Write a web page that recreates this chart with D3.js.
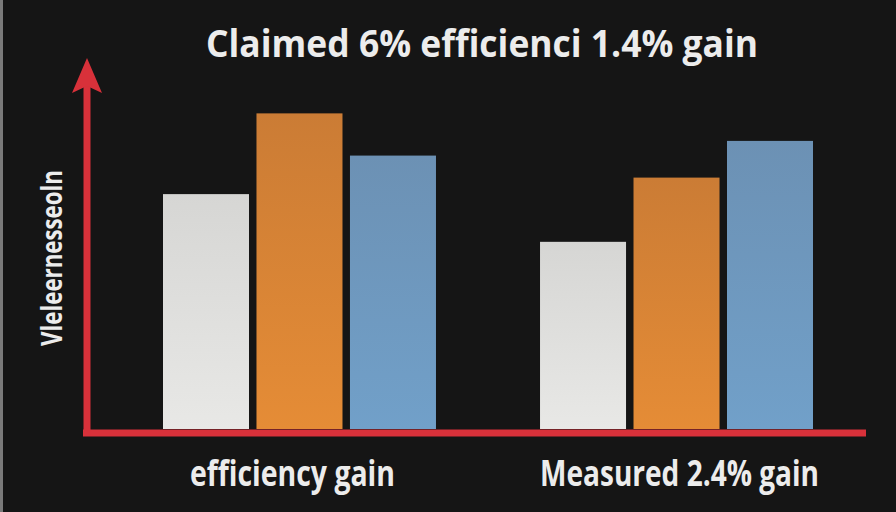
<!DOCTYPE html>
<html>
<head>
<meta charset="utf-8">
<script src="https://cdn.jsdelivr.net/npm/d3@7"></script>
<style>
  html, body { margin: 0; padding: 0; background: #151515; }
  svg { display: block; }
</style>
</head>
<body>
<div id="chart"></div>
<script>
var width = 896;
var height = 512;

// data
var groups = ['efficiency gain', 'Measured 2.4% gain'];
var series = ['baseline', 'claimed', 'measured'];
var baselineVals = [64, 51];
var claimedVals = [86, 68.5];
var measuredVals = [74.5, 78.5];

var title = 'Claimed 6% efficienci 1.4% gain';
var yLabel = 'Vleleernesseoln';

var rows = groups.map((g, i) => {
    return {group: g, values: [baselineVals[i], claimedVals[i], measuredVals[i]]};
});

var base = 429;

var svg = d3.select('#chart')
    .append('svg')
    .attr('width', width)
    .attr('height', height);

svg.append('rect')
    .attr('width', width).attr('height', height)
    .attr('fill', '#151515');
svg.append('rect')
    .attr('width', 3).attr('height', height)
    .attr('fill', '#7a7a7a');

// gradients for the bars
var colors = {
    baseline: ['#d6d6d4', '#e8e8e6'],
    claimed: ['#cb7c35', '#e58c36'],
    measured: ['#6c91b4', '#71a0c9']
};
var defs = svg.append('defs');
series.forEach(s => {
    var g = defs.append('linearGradient')
        .attr('id', 'g-' + s)
        .attr('x1', 0).attr('y1', 0).attr('x2', 0).attr('y2', 1);
    g.append('stop').attr('offset', '0%').attr('stop-color', colors[s][0]);
    g.append('stop').attr('offset', '100%').attr('stop-color', colors[s][1]);
});

var x0 = d3.scaleBand()
    .domain(groups)
    .range([163, 813])
    .paddingInner(0.276)
    .paddingOuter(0);

var x1 = d3.scaleBand()
    .domain(series)
    .range([0, x0.bandwidth()])
    .paddingInner(0.08);

var yScale = d3.scaleLinear()
    .domain([0, 100])
    .range([base, 62]);

// bars
svg.selectAll('.grp')
    .data(rows)
    .enter()
    .append('g')
    .attr('class', 'grp')
    .attr('transform', d => 'translate(' + x0(d.group) + ',0)')
    .selectAll('rect')
    .data(d => d.values.map((v, i) => ({key: series[i], value: v})))
    .enter()
    .append('rect')
    .attr('x', d => x1(d.key))
    .attr('y', d => yScale(d.value))
    .attr('width', x1.bandwidth())
    .attr('height', d => base - yScale(d.value))
    .attr('fill', d => 'url(#g-' + d.key + ')');

// red axes
var red = '#d8313a';
svg.append('line')
    .attr('x1', 83).attr('x2', 866)
    .attr('y1', 433).attr('y2', 433)
    .attr('stroke', red).attr('stroke-width', 7);
svg.append('line')
    .attr('x1', 87).attr('x2', 87)
    .attr('y1', 436).attr('y2', 85)
    .attr('stroke', red).attr('stroke-width', 7);
svg.append('path')
    .attr('d', 'M87,58 L102,93 L87,86 L72,93 Z')
    .attr('fill', red);

// group labels
var xAxis = d3.axisBottom(x0).tickSize(0).tickPadding(0);
var ax = svg.append('g')
    .attr('transform', 'translate(0,' + 486 + ')')
    .call(xAxis);
ax.select('.domain').remove();
ax.selectAll('text')
    .attr('dy', 0)
    .attr('fill', '#ececec')
    .style('font-family', '"Open Sans", sans-serif')
    .style('font-weight', 'bold')
    .style('font-size', '35px')
    .attr('lengthAdjust', 'spacingAndGlyphs')
    .attr('textLength', (d, i) => i === 0 ? 205 : 279)
    .attr('dx', (d, i) => i === 0 ? -7 : 3);

// title
svg.append('text')
    .attr('x', 482).attr('y', 57)
    .attr('text-anchor', 'middle')
    .attr('fill', '#ececec')
    .style('font-family', '"Open Sans", sans-serif')
    .style('font-weight', 'bold')
    .style('font-size', '38px')
    .attr('lengthAdjust', 'spacingAndGlyphs')
    .attr('textLength', 552)
    .text(title);

// y label
svg.append('text')
    .attr('transform', 'translate(62,258) rotate(-90)')
    .attr('text-anchor', 'middle')
    .attr('fill', '#ececec')
    .style('font-family', '"Open Sans", sans-serif')
    .style('font-weight', 'bold')
    .style('font-size', '29px')
    .attr('lengthAdjust', 'spacingAndGlyphs')
    .attr('textLength', 176)
    .text(yLabel);
</script>
</body>
</html>
